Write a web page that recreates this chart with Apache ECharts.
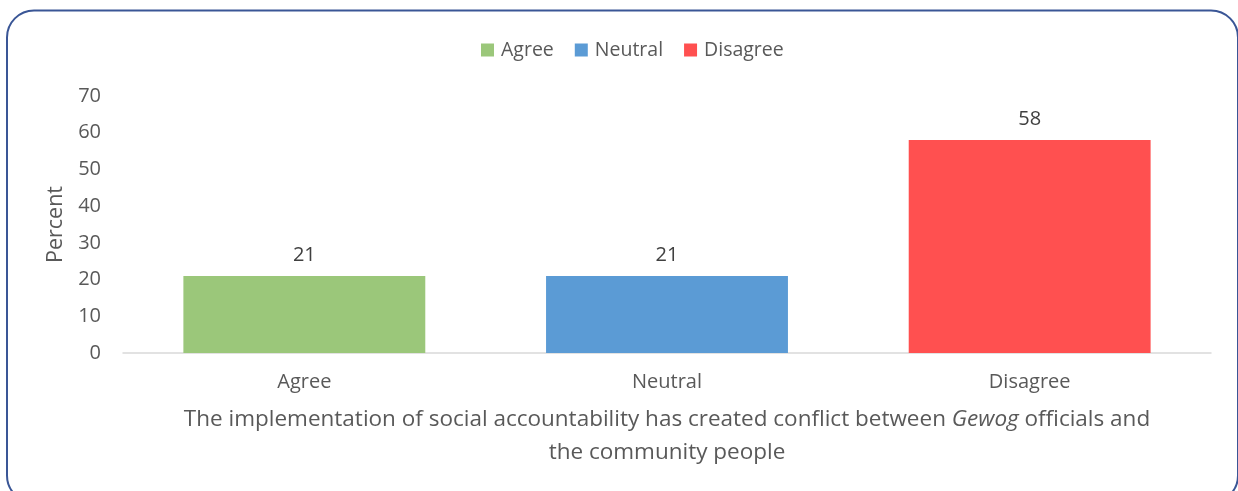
<!DOCTYPE html>
<html>
<head>
<meta charset="utf-8">
<script src="https://cdn.jsdelivr.net/npm/echarts@6/dist/echarts.min.js"></script>
<style>
  html, body { margin: 0; padding: 0; background: #ffffff; }
  #chart { width: 1238px; height: 491px; }
</style>
</head>
<body>
<div id="chart"></div>
<script>
// Survey responses (percent)
const categories = ['Agree', 'Neutral', 'Disagree'];
const percentValues = [21, 21, 58];
const barColors = ['#9BC77A', '#5B9BD5', '#FF5050'];
const yTicks = { min: 0, max: 70, interval: 10 };

const FONT = '"Open Sans", "Noto Sans", sans-serif';
const TEXT = '#595959';
const chart = echarts.init(document.getElementById('chart'), null, { renderer: 'canvas' });

// One series per category so each gets its own legend entry
const series = categories.map((name, i) => ({
  name: name,
  type: 'bar',
  stack: 'all',
  barWidth: '66.7%',
  itemStyle: { color: barColors[i] },
  data: categories.map((c, j) => (j === i ? percentValues[i] : null)),
  label: {
    show: true,
    position: 'top',
    distance: 11,
    color: '#404040',
    fontSize: 20,
    fontFamily: FONT
  }
}));

chart.setOption({
  animation: false,
  textStyle: { fontFamily: FONT },
  graphic: [{
    type: 'rect',
    shape: { x: 7, y: 10.5, width: 1231, height: 492, r: 27 },
    style: { fill: 'none', stroke: '#3A5696', lineWidth: 2 },
    z: -1
  }],
  legend: {
    top: 35,
    left: 476,
    itemWidth: 13,
    itemHeight: 13,
    itemGap: 21,
    icon: 'rect',
    textStyle: { color: TEXT, fontSize: 19.5, fontFamily: FONT, padding: [0, 0, 0, 2] },
    data: categories
  },
  grid: { left: 123, right: 27, top: 96, bottom: 138 },
  xAxis: {
    type: 'category',
    data: categories,
    axisLine: { lineStyle: { color: '#D9D9D9', width: 1.5 } },
    axisTick: { show: false },
    axisLabel: { color: TEXT, fontSize: 20, fontFamily: FONT, margin: 19 },
    name: 'The implementation of social accountability has created conflict between {i|Gewog} officials and\nthe community people',
    nameLocation: 'middle',
    nameGap: 50,
    nameTextStyle: {
      color: TEXT,
      fontSize: 22.5,
      fontFamily: FONT,
      lineHeight: 33,
      rich: {
        i: { fontStyle: 'italic', fontSize: 22.5, color: TEXT, fontFamily: FONT, lineHeight: 33 }
      }
    }
  },
  yAxis: {
    type: 'value',
    min: yTicks.min,
    max: yTicks.max,
    interval: yTicks.interval,
    splitLine: { show: false },
    axisLine: { show: false },
    axisTick: { show: false },
    axisLabel: { color: TEXT, fontSize: 20, fontFamily: FONT, margin: 22 },
    name: 'Percent',
    nameLocation: 'middle',
    nameGap: 55,
    nameTextStyle: { color: TEXT, fontSize: 21.5, fontFamily: FONT }
  },
  series: series
});
</script>
</body>
</html>
